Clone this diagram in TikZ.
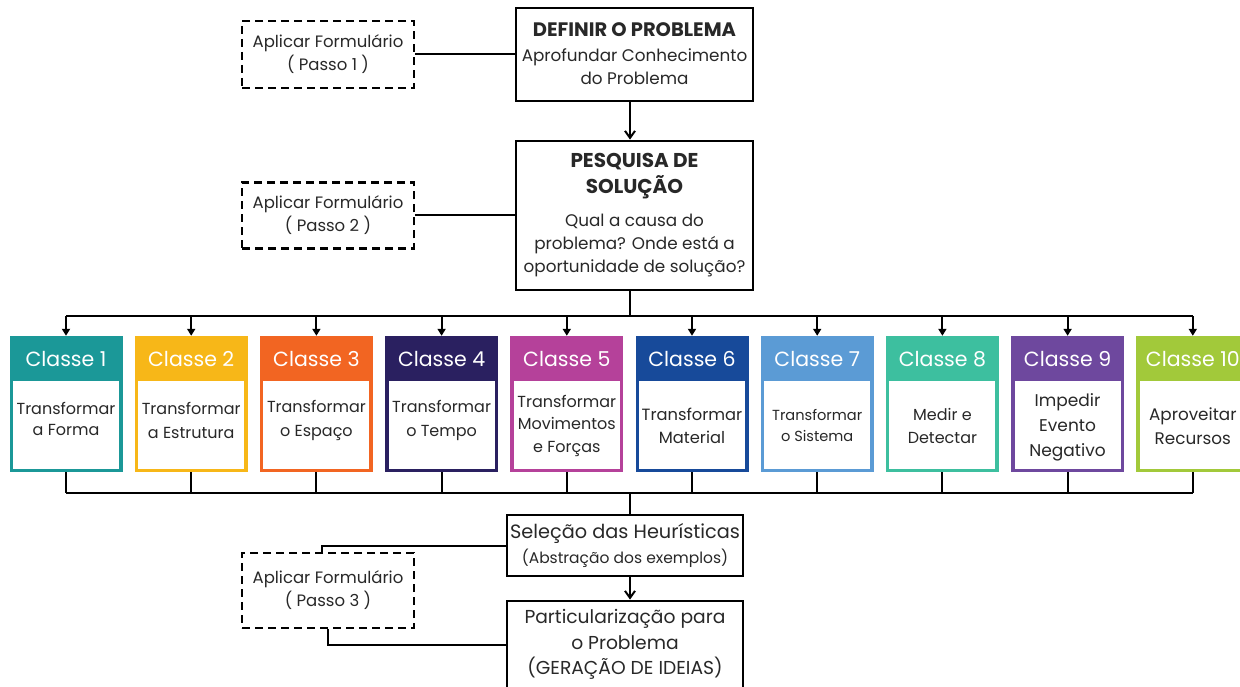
\documentclass[tikz,border=0pt]{standalone}
\usepackage{fontspec}
\setmainfont{Poppins}
\usetikzlibrary{arrows.meta,calc}
\definecolor{k1}{RGB}{27,152,152}
\definecolor{k2}{RGB}{247,183,24}
\definecolor{k3}{RGB}{242,101,34}
\definecolor{k4}{RGB}{42,32,96}
\definecolor{k5}{RGB}{181,65,154}
\definecolor{k6}{RGB}{23,74,154}
\definecolor{k7}{RGB}{91,155,213}
\definecolor{k8}{RGB}{61,191,159}
\definecolor{k9}{RGB}{110,72,158}
\definecolor{k10}{RGB}{162,201,58}
\definecolor{ink}{RGB}{40,40,40}
\begin{document}
\begin{tikzpicture}[x=1pt,y=-1pt,
  mainbox/.style={draw=black, line width=2.8pt, minimum width=237pt, inner sep=0pt, align=center, text=ink},
  formbox/.style={draw=black, line width=2.2pt, dash pattern=on 8pt off 5pt, minimum width=172pt, inner sep=0pt, align=center, text=ink, font=\fontsize{16.5}{23}\selectfont},
  conn/.style={draw=black, line width=2pt},
  arr/.style={conn, -{Straight Barb[length=7pt,width=10pt,line width=2pt]}},
  carr/.style={conn, -{Triangle[length=7pt,width=8pt]}},
  head/.style={text=white, font=\fontsize{20.5}{24}\selectfont},
  body/.style={text=ink, align=center}
]
\useasboundingbox (0,0) rectangle (1240,687);
\fill[white] (0,0) rectangle (1240,687);

% top boxes
\node[mainbox, minimum height=93pt] (def) at (634.5,54.5) {};
\node[text=ink, font=\fontsize{19.5}{22}\bfseries\selectfont] (deft) at (634.5,30) {DEFINIR O PROBLEMA};
\node[body, font=\fontsize{16.8}{23}\selectfont] (defb) at (634.5,66.5) {Aprofundar Conhecimento\\do Problema};

\node[mainbox, minimum height=149pt] (pes) at (634.5,215.5) {};
\node[text=ink, font=\fontsize{20}{26}\bfseries\selectfont, align=center] (pest) at (634.5,176) {PESQUISA DE\\SOLUÇÃO};
\node[body, font=\fontsize{16.8}{23}\selectfont] (pesb) at (634.5,245) {Qual a causa do\\problema? Onde está a\\oportunidade de solução?};

\node[formbox, minimum height=67pt] (f1) at (328,54.5) {Aplicar Formulário\\( Passo 1 )};
\node[formbox, minimum height=66pt] (f2) at (328,215.5) {Aplicar Formulário\\( Passo 2 )};
\node[formbox, minimum height=75pt] (f3) at (328,590.5) {Aplicar Formulário\\( Passo 3 )};

\draw[conn] (f1.east) -- (f1.east -| def.west);
\draw[conn] (f2.east) -- (f2.east -| pes.west);

\coordinate (spine) at (630,0);
\coordinate (bus) at (630,316);
\coordinate (busb) at (630,493);

\draw[arr] (def.south -| spine) -- (pes.north -| spine);
\draw[conn] (pes.south -| spine) -- (bus);

% classes
\foreach \i/\txt/\yy/\fs/\ls in {
  1/{Transformar\\a Forma}/418.5/16/21,
  2/{Transformar\\a Estrutura}/420/16/24,
  3/{Transformar\\o Espaço}/420/16/24,
  4/{Transformar\\o Tempo}/420/16/24,
  5/{Transformar\\Movimentos\\e Forças}/425.5/16/22.5,
  6/{Transformar\\Material}/425.5/16.3/23,
  7/{Transformar\\o Sistema}/425.5/14.6/21,
  8/{Medir e\\Detectar}/425.5/16/23,
  9/{Impedir\\Evento\\Negativo}/427/17/25,
  10/{Aproveitar\\Recursos}/426/16.8/24}{
  \pgfmathsetmacro{\cx}{66+125.2*(\i-1)}
  \node[fill=k\i, minimum width=113pt, minimum height=136pt, inner sep=0pt] (c\i) at (\cx,404) {};
  \fill[white] (\cx-53,381) rectangle (\cx+53,469);
  \node[head] (h\i) at (\cx,359) {Classe \i};
  \node[body, font=\fontsize{\fs}{\ls}\selectfont] (b\i) at (\cx,\yy) {\txt};
  \draw[carr] (c\i.north |- bus) -- (c\i.north);
  \draw[conn] (c\i.south) -- (c\i.south |- busb);
}
\draw[conn] (c1.north |- bus) -- (c10.north |- bus);
\draw[conn] (c1.south |- busb) -- (c10.south |- busb);

% bottom
\node[mainbox, minimum width=236pt, minimum height=61pt] (sel) at (625,545.5) {};
\node[text=ink, font=\fontsize{19.3}{22}\selectfont] (selt) at (625,533) {Seleção das Heurísticas};
\node[text=ink, font=\fontsize{15.5}{18}\selectfont] (selb) at (625,558) {(Abstração dos exemplos)};
\node[mainbox, minimum width=236pt, minimum height=88pt] (part) at (625,645) {};
\node[body, font=\fontsize{18.7}{25.5}\selectfont] (partt) at (625,644.5) {Particularização para\\o Problema\\(GERAÇÃO DE IDEIAS)};

\draw[conn] (busb) -- (sel.north -| spine);
\draw[arr] (sel.south -| spine) -- (part.north -| spine);
\draw[conn] (sel.west) -| ($(f3.north)+(-6,0)$);
\draw[conn] (f3.south) |- (part.west);
\end{tikzpicture}
\end{document}
